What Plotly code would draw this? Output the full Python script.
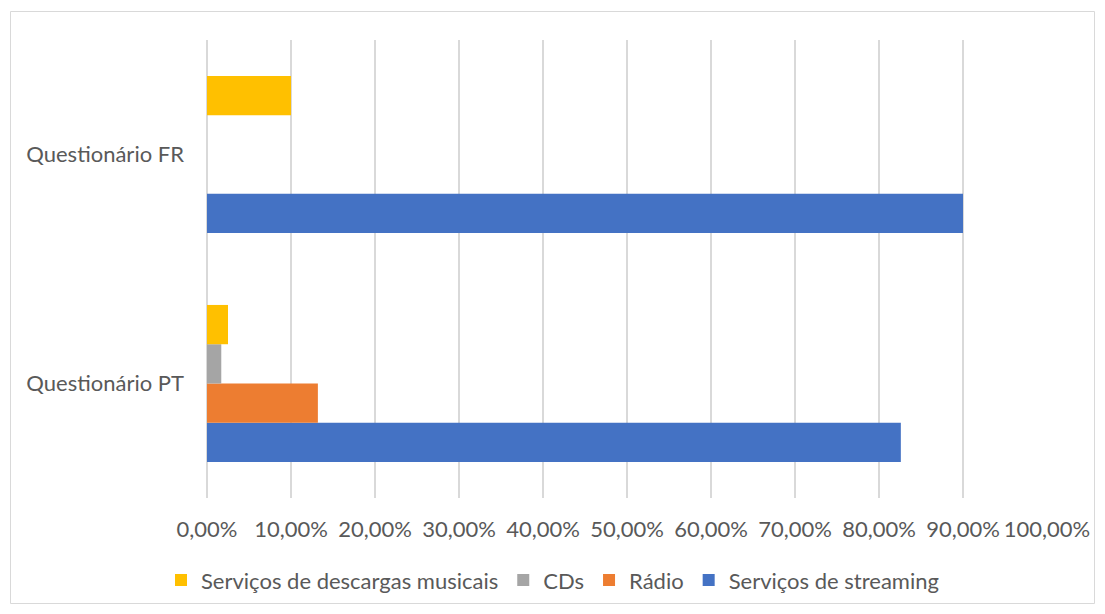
import plotly.graph_objects as go

categories = ["Questionário PT", "Questionário FR"]
streaming = [0.826, 0.90]
radio = [0.132, None]
cds = [0.017, None]
descargas = [0.025, 0.10]

series_names = ["Serviços de streaming", "Rádio", "CDs", "Serviços de descargas musicais"]
series_values = [streaming, radio, cds, descargas]
series_colors = ["#4472C4", "#ED7D31", "#A5A5A5", "#FFC000"]

FONT = "Lato, 'Open Sans', sans-serif"
TXT = "#595959"
FS = 22

fig = go.Figure()
for name, vals, col in zip(series_names, series_values, series_colors):
    fig.add_trace(go.Bar(
        y=categories, x=vals, name=name, orientation="h",
        marker=dict(color=col, line=dict(width=0)),
    ))

W, H = 1105, 614
L, R, T, B = 207, 58, 40, 116
pw, ph = W - L - R, H - T - B

def px_x(p):
    return (p - L) / pw

def px_y(p):
    return (H - B - p) / ph

fig.update_layout(
    width=W, height=H,
    margin=dict(l=L, r=R, t=T, b=B),
    paper_bgcolor="white", plot_bgcolor="white",
    barmode="group", bargap=0.314, bargroupgap=0,
    separators=",.",
    font=dict(family=FONT, size=FS, color=TXT),
    showlegend=True,
    legend=dict(
        orientation="h", traceorder="reversed",
        x=0.5, xref="container", xanchor="center",
        y=0.055, yref="container", yanchor="middle",
        font=dict(family=FONT, size=FS, color=TXT),
        itemwidth=30,
    ),
    xaxis=dict(
        range=[0, 1], dtick=0.1, tickformat=".2%",
        showgrid=True, gridcolor="#D9D9D9", gridwidth=1.5,
        zeroline=True, zerolinecolor="#D9D9D9", zerolinewidth=1.5,
        showline=False, ticks="",
        ticklabelstandoff=16,
        tickfont=dict(family=FONT, size=FS, color=TXT),
    ),
    yaxis=dict(
        showgrid=False, showline=False, ticks="",
        ticklabelstandoff=22,
        tickfont=dict(family=FONT, size=FS, color=TXT),
    ),
    shapes=[dict(
        type="rect", xref="paper", yref="paper",
        x0=px_x(10.5), x1=px_x(1094.5), y0=px_y(603.5), y1=px_y(11.5),
        line=dict(color="#D9D9D9", width=1), fillcolor="rgba(0,0,0,0)",
        layer="below",
    )],
)

fig.write_html("out.html")
